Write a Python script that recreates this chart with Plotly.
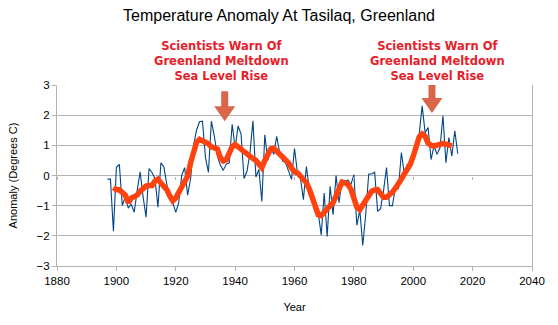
import plotly.graph_objects as go

years_blue = list(range(1897, 2016))
anomaly = [
    -0.12, -0.12, -1.85, 0.27, 0.37, -1.0, -0.7, -1.08, -0.95, -1.22,
    -0.5, 0.12, -0.7, -1.38, 0.23, 0.1, -0.1, -1.05, 0.42, 0.28,
    -0.3, -0.7, -0.9, -1.22, -0.9, 0.0, 0.26, -0.65, -0.1, 1.0,
    1.5, 1.78, 1.8, 0.6, 0.1, 1.8, 1.3, 0.65, 0.35, 0.17,
    0.37, 0.42, 1.7, 0.92, 1.64, 1.37, -0.1, 0.14, 0.76, 1.81,
    -0.05, 0.2, -0.86, 1.35, 0.5, 0.95, 0.7, 1.3, 0.76, 0.48,
    0.42, 0.14, -0.13, 0.89, 0.09, -0.1, -0.8, 0.3, -0.47, -0.7,
    -1.2, -1.25, -1.97, -0.58, -2.02, -0.36, -1.3, 0.0, -0.9, -0.15,
    -0.2, -0.15, -0.3, 0.03, -1.65, -1.15, -2.32, -1.27, 0.05, 0.05,
    0.11, -1.19, -1.1, -0.5, 0.26, -1.0, -1.0, -0.36, -0.45, 0.76,
    0.05, 0.37, 0.42, 0.59, 1.09, 1.37, 2.31, 1.42, 1.59, 0.53,
    0.98, 0.7, 0.92, 1.98, 0.42, 1.26, 0.64, 1.48, 0.72,
]

years_mean = list(range(1899, 2014))
running_mean = [
    -0.4, -0.47, -0.47, -0.55, -0.65, -0.9, -0.75, -0.7, -0.65, -0.52,
    -0.42, -0.35, -0.33, -0.33, -0.18, -0.12, -0.25, -0.35, -0.47, -0.68,
    -0.84, -0.75, -0.55, -0.38, -0.2, -0.02, 0.42, 0.85, 1.1, 1.2,
    1.16, 1.12, 1.05, 0.95, 0.92, 0.88, 0.6, 0.48, 0.52, 0.72,
    0.95, 1.03, 0.95, 0.87, 0.78, 0.68, 0.6, 0.56, 0.5, 0.4,
    0.26, 0.5, 0.72, 0.88, 0.9, 0.81, 0.72, 0.58, 0.5, 0.42,
    0.25, 0.12, 0.09, 0.0, -0.1, -0.24, -0.45, -0.7, -1.05, -1.3,
    -1.33, -1.24, -1.12, -1.0, -0.9, -0.63, -0.38, -0.22, -0.24, -0.3,
    -0.45, -0.75, -1.05, -1.13, -0.98, -0.8, -0.65, -0.52, -0.48, -0.47,
    -0.6, -0.72, -0.72, -0.66, -0.55, -0.42, -0.3, -0.12, 0.05, 0.2,
    0.37, 0.64, 1.0, 1.28, 1.38, 1.3, 1.08, 1.0, 0.98, 1.02,
    1.04, 1.06, 1.04, 1.02, 0.98,
]

x_ticks = [1880, 1900, 1920, 1940, 1960, 1980, 2000, 2020, 2040]
y_ticks = [-3, -2, -1, 0, 1, 2, 3]

callout_lines = ["Scientists Warn Of", "Greenland Meltdown", "Sea Level Rise"]
callout_years = [1935.5, 2008]
arrow_tip_years = [1936.5, 2006.3]
arrow_tip_values = [1.8, 2.07]

W, H = 558, 325
ML, MR, MT, MB = 57, 26, 85, 59
px_per_year = (W - ML - MR) / (x_ticks[-1] - x_ticks[0])
px_per_unit = (H - MT - MB) / (y_ticks[-1] - y_ticks[0])

fig = go.Figure()
fig.add_trace(go.Scatter(x=years_blue, y=anomaly, mode="lines",
                         line=dict(color="#004586", width=1.1), showlegend=False))
fig.add_trace(go.Scatter(x=years_mean, y=running_mean, mode="lines",
                         line=dict(color="#ff420e", width=5.5), showlegend=False))
fig.add_trace(go.Scatter(x=[], y=[], xaxis="x2", showlegend=False))

shapes = []
for tx, ty in zip(arrow_tip_years, arrow_tip_values):
    def P(dx, dy):
        return f"{tx + dx / px_per_year},{ty + dy / px_per_unit}"
    head_len, shaft_len, hw, sw = 15, 15, 10.5, 3.5
    path = ("M" + P(0, 0) + " L" + P(-hw, head_len) + " L" + P(-sw, head_len) +
            " L" + P(-sw, head_len + shaft_len) + " L" + P(sw, head_len + shaft_len) +
            " L" + P(sw, head_len) + " L" + P(hw, head_len) + " Z")
    shapes.append(dict(type="path", path=path, xref="x", yref="y",
                       fillcolor="#d9654a", line=dict(width=0), layer="above"))

callout_html = "<br>".join("<b>" + s + "</b>" for s in callout_lines)
annotations = []
for cx in callout_years:
    annotations.append(dict(x=cx, xref="x", y=1.0, yref="paper", yshift=0,
                            text=callout_html, showarrow=False, yanchor="bottom",
                            font=dict(family="DejaVu Sans", size=11.5, color="#e8202a"),
                            align="center"))

fig.update_layout(
    width=W, height=H,
    margin=dict(l=ML, r=MR, t=MT, b=MB),
    paper_bgcolor="white", plot_bgcolor="white",
    font=dict(family="Liberation Sans", size=11, color="#000000"),
    title=dict(text="Temperature Anomaly At Tasilaq, Greenland", x=0.5, xanchor="center",
               y=1 - 15 / H, yanchor="middle",
               font=dict(family="Liberation Sans", size=16, color="#000000")),
    xaxis=dict(range=[x_ticks[0], x_ticks[-1]], tickvals=x_ticks, showgrid=False,
               zeroline=False, showline=True, linecolor="#b3b3b3", linewidth=1,
               ticks="outside", ticklen=4, tickcolor="#b3b3b3",
               tickfont=dict(size=11.5),
               title=dict(text="Year", standoff=17, font=dict(size=11))),
    xaxis2=dict(overlaying="x", matches="x", anchor="free", position=0.5,
                tickvals=x_ticks, showticklabels=False, showgrid=False, zeroline=False,
                showline=False, ticks="outside", ticklen=3, tickcolor="#b3b3b3"),
    yaxis=dict(range=[y_ticks[0], y_ticks[-1]], tickvals=y_ticks, showgrid=True,
               gridcolor="#b3b3b3", zeroline=False, showline=True, linecolor="#b3b3b3",
               mirror=True, ticks="outside", ticklen=4, tickcolor="#b3b3b3",
               tickfont=dict(size=11.5),
               title=dict(text="Anomaly (Degrees C)", standoff=16, font=dict(size=11))),
    shapes=shapes,
    annotations=annotations,
)

fig.write_html("out.html")
